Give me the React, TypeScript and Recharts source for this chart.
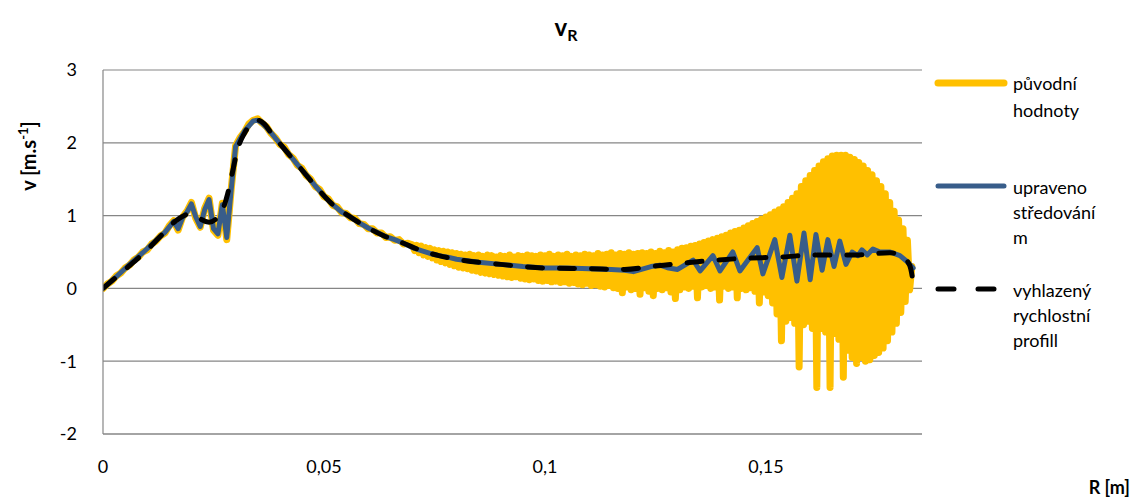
import { CartesianGrid, Line, LineChart, XAxis, YAxis } from "recharts";

// raw signal, first part sampled every 1 mm (R = 0 .. 0.069)
const RAW_STEP = 0.001;
const rawValues = [
  0.0, 0.06, 0.1, 0.17, 0.21, 0.28, 0.32, 0.39, 0.43, 0.5,
  0.53, 0.61, 0.65, 0.72, 0.76, 0.86, 0.93, 0.8, 0.98, 1.06,
  1.18, 0.96, 0.84, 1.1, 1.24, 0.8, 0.73, 1.17, 0.67, 1.36,
  1.96, 2.07, 2.15, 2.26, 2.31, 2.33, 2.27, 2.22, 2.13, 2.07,
  1.98, 1.94, 1.84, 1.79, 1.69, 1.65, 1.55, 1.5, 1.4, 1.36,
  1.26, 1.23, 1.14, 1.12, 1.04, 1.03, 0.97, 0.96, 0.89, 0.88,
  0.82, 0.82, 0.76, 0.76, 0.7, 0.71, 0.66, 0.67, 0.61, 0.62,
];
// raw signal, noisy part sampled every 0.5 mm (R = 0.070 .. 0.183)
const DENSE_START = 0.07;
const DENSE_STEP = 0.0005;
const rawDenseValues = [
  0.6, 0.52, 0.59, 0.49, 0.58, 0.46, 0.56, 0.44, 0.55, 0.42,
  0.53, 0.39, 0.52, 0.37, 0.51, 0.35, 0.5, 0.33, 0.49, 0.31,
  0.48, 0.29, 0.47, 0.28, 0.46, 0.27, 0.47, 0.25, 0.45, 0.24,
  0.46, 0.22, 0.44, 0.21, 0.46, 0.2, 0.45, 0.19, 0.43, 0.18,
  0.45, 0.17, 0.44, 0.16, 0.46, 0.15, 0.43, 0.16, 0.45, 0.14,
  0.44, 0.13, 0.46, 0.12, 0.45, 0.13, 0.44, 0.11, 0.46, 0.1,
  0.45, 0.11, 0.47, 0.09, 0.44, 0.1, 0.46, 0.08, 0.45, 0.09,
  0.47, 0.07, 0.44, 0.08, 0.46, 0.06, 0.45, 0.05, 0.47, 0.07,
  0.46, 0.04, 0.45, 0.05, 0.48, 0.03, 0.46, 0.02, 0.47, 0.04,
  0.49, 0.01, 0.46, 0.0, 0.48, -0.06, 0.47, 0.02, 0.49, -0.02,
  0.47, 0.0, 0.48, -0.08, 0.49, 0.01, 0.48, -0.04, 0.5, -0.1,
  0.48, 0.0, 0.51, -0.02, 0.49, 0.01, 0.52, -0.05, 0.5, -0.14,
  0.53, -0.02, 0.55, 0.02, 0.56, 0.0, 0.58, 0.03, 0.59, -0.13,
  0.61, 0.02, 0.63, 0.04, 0.65, 0.0, 0.67, 0.02, 0.69, -0.16,
  0.71, 0.03, 0.73, 0.0, 0.76, 0.02, 0.78, -0.13, 0.8, 0.0,
  0.83, -0.02, 0.86, 0.01, 0.89, -0.04, 0.92, -0.2, 0.95, -0.05,
  0.98, -0.1, 1.01, -0.2, 1.05, -0.35, 1.08, -0.72, 1.12, -0.45,
  1.18, -0.4, 1.24, -0.48, 1.3, -1.08, 1.4, -0.5, 1.48, -0.45,
  1.55, -0.55, 1.62, -1.36, 1.68, -0.55, 1.74, -0.6, 1.78, -1.36,
  1.82, -0.62, 1.83, -0.7, 1.83, -1.22, 1.83, -0.85, 1.8, -0.95,
  1.77, -1.03, 1.73, -0.95, 1.68, -1.0, 1.62, -0.98, 1.56, -0.92,
  1.48, -0.88, 1.4, -0.82, 1.3, -0.72, 1.18, -0.6, 1.06, -0.48,
  0.94, -0.33, 0.82, -0.18, 0.66, -0.02, 0.3,
];

const avgR = [
  0, 0.003, 0.006, 0.009, 0.012, 0.014, 0.016, 0.017, 0.018, 0.019,
  0.02, 0.021, 0.022, 0.023, 0.024, 0.025, 0.026, 0.027, 0.028, 0.029,
  0.03, 0.032, 0.034, 0.035, 0.036, 0.038, 0.04, 0.042, 0.044, 0.046,
  0.048, 0.05, 0.052, 0.054, 0.056, 0.058, 0.06, 0.062, 0.064, 0.066,
  0.068, 0.07, 0.072, 0.074, 0.076, 0.078, 0.08, 0.085, 0.09, 0.095,
  0.1, 0.105, 0.11, 0.115, 0.118, 0.12, 0.124, 0.126, 0.128, 0.13,
  0.1335, 0.1351, 0.138, 0.1396, 0.1425, 0.1441, 0.148, 0.1493, 0.152, 0.1536,
  0.1554, 0.157, 0.1586, 0.16, 0.1613, 0.1627, 0.164, 0.1654, 0.1667, 0.1681,
  0.1695, 0.1708, 0.1717, 0.1729, 0.1742, 0.1758, 0.1781, 0.1803, 0.1819, 0.1833,
];
const avgValues = [
  0, 0.16, 0.33, 0.49, 0.66, 0.77, 0.92, 0.82, 0.97, 1.05,
  1.16, 0.98, 0.85, 1.08, 1.22, 0.82, 0.75, 1.15, 0.7, 1.35,
  1.95, 2.16, 2.3, 2.31, 2.27, 2.14, 1.99, 1.85, 1.7, 1.56,
  1.41, 1.27, 1.15, 1.05, 0.98, 0.9, 0.83, 0.77, 0.71, 0.67,
  0.62, 0.56, 0.52, 0.48, 0.45, 0.43, 0.4, 0.36, 0.33, 0.3,
  0.28, 0.28, 0.27, 0.26, 0.25, 0.23, 0.3, 0.32, 0.28, 0.26,
  0.39, 0.24, 0.45, 0.24, 0.5, 0.24, 0.56, 0.2, 0.67, 0.15,
  0.73, 0.1, 0.76, 0.12, 0.74, 0.25, 0.67, 0.3, 0.65, 0.33,
  0.5, 0.45, 0.53, 0.46, 0.54, 0.5, 0.5, 0.45, 0.37, 0.28,
];

const smoothR = [
  0, 0.005, 0.01, 0.014, 0.0165, 0.0195, 0.024, 0.0268, 0.0282, 0.0293,
  0.0305, 0.032, 0.0335, 0.035, 0.0365, 0.038, 0.04, 0.044, 0.048, 0.052,
  0.056, 0.06, 0.064, 0.068, 0.072, 0.076, 0.08, 0.09, 0.1, 0.11,
  0.118, 0.124, 0.135, 0.144, 0.153, 0.162, 0.171, 0.178, 0.1805, 0.1825,
  0.1835,
];
const smoothValues = [
  0, 0.26, 0.53, 0.78, 0.93, 1.02, 0.91, 1.05, 1.3, 1.6,
  1.92, 2.13, 2.26, 2.31, 2.26, 2.14, 1.99, 1.7, 1.41, 1.15,
  0.98, 0.83, 0.71, 0.62, 0.52, 0.45, 0.4, 0.33, 0.28, 0.27,
  0.26, 0.3, 0.37, 0.41, 0.43, 0.46, 0.46, 0.49, 0.45, 0.32,
  0,
];

const seriesNames = [
  ["původní", "hodnoty"],
  ["upraveno", "středování", "m"],
  ["vyhlazený", "rychlostní", "profill"],
];
const xTicks = [0, 0.05, 0.1, 0.15];
const yTicks = [-2, -1, 0, 1, 2, 3];

const rawData = [
  ...rawValues.map((v, i) => ({ r: i * RAW_STEP, v })),
  ...rawDenseValues.map((v, k) => ({ r: DENSE_START + k * DENSE_STEP, v })),
];
const avgData = avgR.map((r, i) => ({ r, v: avgValues[i] }));
const smoothData = smoothR.map((r, i) => ({ r, v: smoothValues[i] }));

const FONT = "Lato, 'Open Sans', sans-serif";
const YELLOW = "#FFC000";
const BLUE = "#385D8A";
const GRID = "#868686";

const legendRows = [
  { color: YELLOW, dash: undefined, width: 7, lineY: 83, textY: [83, 110] },
  { color: BLUE, dash: undefined, width: 5, lineY: 186, textY: [187, 212, 237] },
  { color: "#000", dash: "16 24", width: 5, lineY: 289, textY: [290, 315, 340] },
];

const App = () => {
  return (
    <div style={{ position: "absolute", left: 0, top: 0, width: 1138, height: 499, background: "#fff" }}>
      <LineChart width={1138} height={499} margin={{ top: 70, right: 216, bottom: 0, left: 0 }}>
        <CartesianGrid vertical={false} stroke={GRID} strokeWidth={1.2} />
        <XAxis
          dataKey="r"
          type="number"
          domain={[0, 0.1853]}
          ticks={xTicks}
          allowDataOverflow
          height={65}
          tickSize={0}
          tickMargin={26}
          axisLine={{ stroke: GRID, strokeWidth: 1.2 }}
          tickLine={false}
          tick={{ fontSize: 18, fill: "#000", fontFamily: FONT }}
          tickFormatter={(v: number) => String(v).replace(".", ",")}
        />
        <YAxis
          type="number"
          domain={[-2, 3]}
          ticks={yTicks}
          width={103}
          tickSize={0}
          tickMargin={26}
          axisLine={{ stroke: GRID, strokeWidth: 1.2 }}
          tickLine={false}
          tick={{ fontSize: 18, fill: "#000", fontFamily: FONT }}
        />
        <Line data={rawData} dataKey="v" type="linear" stroke={YELLOW} strokeWidth={7} strokeLinejoin="round" strokeLinecap="round" dot={false} activeDot={false} isAnimationActive={false} />
        <Line data={avgData} dataKey="v" type="linear" stroke={BLUE} strokeWidth={5} strokeLinejoin="round" strokeLinecap="round" dot={false} activeDot={false} isAnimationActive={false} />
        <Line data={smoothData} dataKey="v" type="monotone" stroke="#000" strokeWidth={5} strokeDasharray="15 17" strokeLinecap="round" dot={false} activeDot={false} isAnimationActive={false} />
      </LineChart>
      <svg width={1138} height={499} style={{ position: "absolute", left: 0, top: 0, pointerEvents: "none" }} fontFamily={FONT}>
        <text x={566} y={36} textAnchor="middle" fontSize={24} fontWeight="bold">
          v<tspan fontSize={16} dy={5}>R</tspan>
        </text>
        <text transform="translate(36,156) rotate(-90)" textAnchor="middle" fontSize={20} fontWeight="bold">
          v [m.s<tspan fontSize={13} dy={-8}>-1</tspan><tspan dy={8}>]</tspan>
        </text>
        <text x={1130} y={494} textAnchor="end" fontSize={18} fontWeight="bold">R [m]</text>
        {legendRows.map((row, i) => (
          <g key={i}>
            <line x1={938} x2={1004} y1={row.lineY} y2={row.lineY} stroke={row.color} strokeWidth={row.width} strokeDasharray={row.dash} strokeLinecap="round" />
            {seriesNames[i].map((t, j) => (
              <text key={j} x={1013} y={row.textY[j]} dominantBaseline="central" fontSize={18}>{t}</text>
            ))}
          </g>
        ))}
      </svg>
    </div>
  );
};

export default App;
